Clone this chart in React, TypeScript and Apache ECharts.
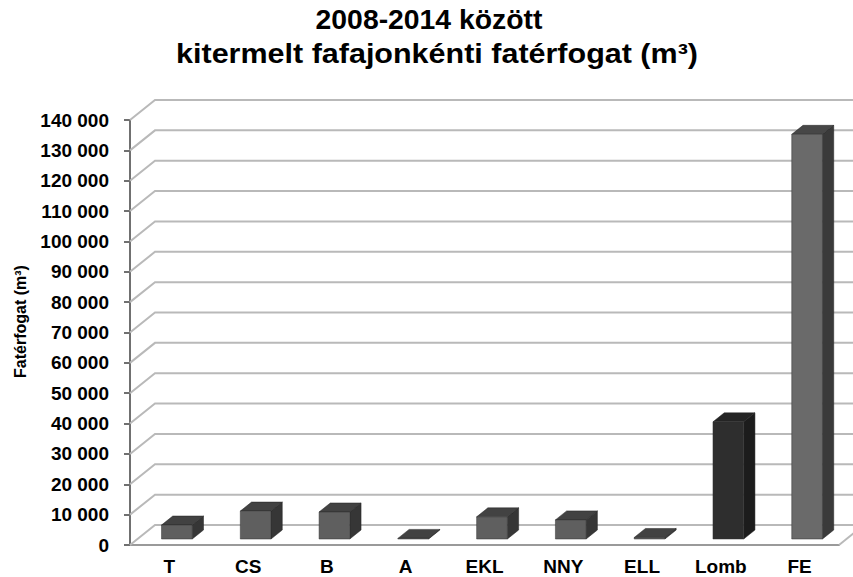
import React, { useEffect, useRef } from "react";
import * as echarts from "echarts";

const categories = ["T", "CS", "B", "A", "EKL", "NNY", "ELL", "Lomb", "FE"];
const volumes = [4600, 9200, 8900, 200, 7300, 6300, 500, 38600, 133300];
const yTicks = [0, 10000, 20000, 30000, 40000, 50000, 60000, 70000, 80000, 90000, 100000, 110000, 120000, 130000, 140000];
const titleLines = ["2008-2014 között", "kitermelt fafajonkénti fatérfogat (m³)"];
const yAxisTitle = "Fatérfogat (m³)";

// style only: shades of each bar (front, side, top)
const shadeNormal = ["#5f5f5f", "#363636", "#424242"];
const shadeDark = ["#2e2e2e", "#1c1c1c", "#242424"];
const shadeLight = ["#6a6a6a", "#3a3a3a", "#474747"];
const shadeFor = (name: string) => (name === "Lomb" ? shadeDark : name === "FE" ? shadeLight : shadeNormal);

const FONT = "'Liberation Sans', Arial, sans-serif";
const DX = 25;
const DY = -20;

const fmt = (v: number) => String(v).replace(/\B(?=(\d{3})+(?!\d))/g, " ");

export default function App() {
  const ref = useRef<HTMLDivElement>(null);
  useEffect(() => {
    if (!ref.current) return;
    const chart = echarts.init(ref.current, null, { renderer: "svg" });
    const option: any = {
      animation: false,
      backgroundColor: "#ffffff",
      graphic: [
        {
          type: "text",
          x: 429,
          y: 20,
          scaleX: 1.05,
          style: { text: titleLines[0], font: `bold 27px ${FONT}`, fill: "#000", textAlign: "center", textVerticalAlign: "middle" },
        },
        {
          type: "text",
          x: 437,
          y: 54,
          scaleX: 1.13,
          style: { text: titleLines[1], font: `bold 27px ${FONT}`, fill: "#000", textAlign: "center", textVerticalAlign: "middle" },
        },
      ],
      grid: { left: 130, right: 14, top: 120, bottom: 32, containLabel: false },
      xAxis: {
        type: "category",
        data: categories,
        axisLine: { show: true, lineStyle: { color: "#9a9a9a", width: 2 } },
        axisTick: { show: false },
        axisLabel: { color: "#000", fontWeight: "bold", fontSize: 19, fontFamily: FONT, margin: 12 },
        splitLine: { show: false },
      },
      yAxis: {
        type: "value",
        min: 0,
        max: 140000,
        interval: 10000,
        name: yAxisTitle,
        nameLocation: "middle",
        nameRotate: 90,
        nameGap: 102,
        nameTextStyle: { color: "#000", fontWeight: "bold", fontSize: 16, fontFamily: FONT, padding: [0, 0, 0, 22] },
        axisLine: { show: true, lineStyle: { color: "#707070", width: 2 } },
        axisTick: { show: true, inside: false, length: 6, lineStyle: { color: "#707070", width: 2 } },
        axisLabel: { color: "#000", fontWeight: "bold", fontSize: 19, fontFamily: FONT, margin: 21, formatter: (v: number) => fmt(v) },
        splitLine: { show: false },
      },
      series: [
        {
          type: "custom",
          z: 1,
          silent: true,
          clip: false,
          data: yTicks.map((v) => [0, v]),
          renderItem: (params: any, api: any) => {
            const cs = params.coordSys;
            const y = api.coord([0, api.value(1)])[1];
            const children: any[] = [
              {
                type: "polyline",
                shape: { points: [[cs.x, y], [cs.x + DX, y + DY], [cs.x + cs.width + DX, y + DY]] },
                style: { stroke: "#b9b9b9", lineWidth: 2, fill: null },
              },
            ];
            if (api.value(1) === 0) {
              children.push({
                type: "line",
                shape: { x1: cs.x + cs.width, y1: y, x2: cs.x + cs.width + DX, y2: y + DY },
                style: { stroke: "#b9b9b9", lineWidth: 2 },
              });
            }
            return { type: "group", children };
          },
        },
        {
          type: "custom",
          z: 3,
          clip: false,
          data: categories.map((c, i) => [i, volumes[i]]),
          renderItem: (params: any, api: any) => {
            const i = api.value(0);
            const v = api.value(1);
            const band = api.size([1, 0])[0];
            const base = api.coord([i, 0]);
            const top = api.coord([i, v]);
            const f0 = 0.3;
            const fd = 0.45;
            const w = band * 0.39;
            const x0 = base[0] - w / 2 + f0 * DX;
            const yb = base[1] + f0 * DY;
            const yt = top[1] + f0 * DY;
            const dx = fd * DX;
            const dy = fd * DY;
            const sh = shadeFor(categories[i]);
            return {
              type: "group",
              children: [
                {
                  type: "polygon",
                  shape: { points: [[x0 + w, yt], [x0 + w + dx, yt + dy], [x0 + w + dx, yb + dy], [x0 + w, yb]] },
                  style: { fill: sh[1], stroke: "#222", lineWidth: 0.5 },
                },
                {
                  type: "polygon",
                  shape: { points: [[x0, yt], [x0 + dx, yt + dy], [x0 + w + dx, yt + dy], [x0 + w, yt]] },
                  style: { fill: sh[2], stroke: "#222", lineWidth: 0.5 },
                },
                {
                  type: "rect",
                  shape: { x: x0, y: yt, width: w, height: Math.max(yb - yt, 0.5) },
                  style: { fill: sh[0], stroke: "#333", lineWidth: 0.5 },
                },
              ],
            };
          },
        },
      ],
    };
    chart.setOption(option);
    return () => chart.dispose();
  }, []);
  return <div ref={ref} style={{ position: "fixed", left: 0, top: 0, width: 853, height: 577, background: "#fff" }} />;
}
